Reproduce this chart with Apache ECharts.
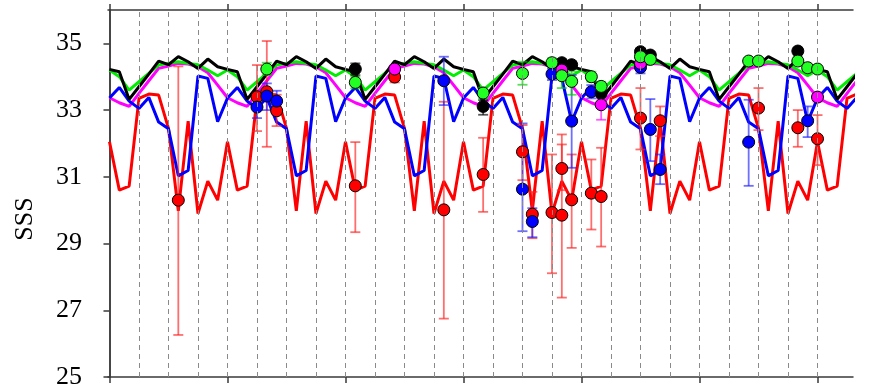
<!DOCTYPE html>
<html>
<head>
<meta charset="utf-8">
<script src="https://cdn.jsdelivr.net/npm/echarts@6/dist/echarts.min.js"></script>
<style>
  html, body { margin: 0; padding: 0; background: #fff; }
  #chart { width: 870px; height: 390px; }
</style>
</head>
<body>
<div id="chart"></div>
<script>
// monthly model lines, month 0 .. 76
const redLine = [
  32.05, 30.6, 30.72, 33.35, 33.48, 33.45, 32.45, 29.98, 32.67, 29.9, 30.87, 30.3,
  32.05, 30.6, 30.72, 33.35, 33.48, 33.45, 32.45, 29.98, 32.67, 29.9, 30.87, 30.3,
  32.05, 30.6, 30.72, 33.35, 33.48, 33.45, 32.45, 29.98, 32.67, 29.9, 30.87, 30.3,
  32.05, 30.6, 30.72, 33.35, 33.48, 33.45, 32.45, 29.98, 32.67, 29.9, 30.87, 30.3,
  32.05, 30.6, 30.72, 33.35, 33.48, 33.45, 32.45, 29.98, 32.67, 29.9, 30.87, 30.3,
  32.05, 30.6, 30.72, 33.35, 33.48, 33.45, 32.45, 29.98, 32.67, 29.9, 30.87, 30.3,
  32.05, 30.6, 30.72, 33.35, 33.48
]
const blueLine = [
  33.36, 33.68, 33.27, 33.05, 33.38, 32.64, 32.44, 31.03, 31.19, 34.02, 33.95, 32.65,
  33.36, 33.68, 33.27, 33.05, 33.38, 32.64, 32.44, 31.03, 31.19, 34.02, 33.95, 32.65,
  33.36, 33.68, 33.27, 33.05, 33.38, 32.64, 32.44, 31.03, 31.19, 34.02, 33.95, 32.65,
  33.36, 33.68, 33.27, 33.05, 33.38, 32.64, 32.44, 31.03, 31.19, 34.02, 33.95, 32.65,
  33.36, 33.68, 33.27, 33.05, 33.38, 32.64, 32.44, 31.03, 31.19, 34.02, 33.95, 32.65,
  33.36, 33.68, 33.27, 33.05, 33.38, 32.64, 32.44, 31.03, 31.19, 34.02, 33.95, 32.65,
  33.36, 33.68, 33.27, 33.05, 33.38
]
const magentaLine = [
  33.37, 33.22, 33.11, 33.5, 33.88, 34.25, 34.32, 34.4, 34.38, 34.3, 34.12, 33.75,
  33.37, 33.22, 33.11, 33.5, 33.88, 34.25, 34.32, 34.4, 34.38, 34.3, 34.12, 33.75,
  33.37, 33.22, 33.11, 33.5, 33.88, 34.25, 34.32, 34.4, 34.38, 34.3, 34.12, 33.75,
  33.37, 33.22, 33.11, 33.5, 33.88, 34.25, 34.32, 34.4, 34.38, 34.3, 34.12, 33.75,
  33.37, 33.22, 33.11, 33.5, 33.88, 34.25, 34.32, 34.4, 34.38, 34.3, 34.12, 33.75,
  33.37, 33.22, 33.11, 33.5, 33.88, 34.25, 34.32, 34.4, 34.38, 34.3, 34.12, 33.75,
  33.37, 33.22, 33.11, 33.5, 33.88
]
const greenLine = [
  34.2, 34.0, 33.6, 33.85, 34.1, 34.35, 34.4, 34.45, 34.4, 34.36, 34.2, 34.03,
  34.2, 34.0, 33.6, 33.85, 34.1, 34.35, 34.4, 34.45, 34.4, 34.36, 34.2, 34.03,
  34.2, 34.0, 33.6, 33.85, 34.1, 34.35, 34.4, 34.45, 34.4, 34.36, 34.2, 34.03,
  34.2, 34.0, 33.6, 33.85, 34.1, 34.35, 34.4, 34.45, 34.4, 34.36, 34.2, 34.03,
  34.2, 34.0, 33.6, 33.85, 34.1, 34.35, 34.4, 34.45, 34.4, 34.36, 34.2, 34.03,
  34.2, 34.0, 33.6, 33.85, 34.1, 34.35, 34.4, 34.45, 34.4, 34.36, 34.2, 34.03,
  34.2, 34.0, 33.6, 33.85, 34.1
]
const blackLine = [
  34.22, 34.15, 33.32, 33.7, 34.08, 34.47, 34.36, 34.6, 34.45, 34.25, 34.53, 34.3,
  34.22, 34.15, 33.32, 33.7, 34.08, 34.47, 34.36, 34.6, 34.45, 34.25, 34.53, 34.3,
  34.22, 34.15, 33.32, 33.7, 34.08, 34.47, 34.36, 34.6, 34.45, 34.25, 34.53, 34.3,
  34.22, 34.15, 33.32, 33.7, 34.08, 34.47, 34.36, 34.6, 34.45, 34.25, 34.53, 34.3,
  34.22, 34.15, 33.32, 33.7, 34.08, 34.47, 34.36, 34.6, 34.45, 34.25, 34.53, 34.3,
  34.22, 34.15, 33.32, 33.7, 34.08, 34.47, 34.36, 34.6, 34.45, 34.25, 34.53, 34.3,
  34.22, 34.15, 33.32, 33.7, 34.08
]

// observations: [month, value, low, high]
const redPts = [
  [7, 30.3, 26.26, 34.31], [15, 33.4, 32.37, 34.35], [16, 33.55, 31.9, 35.07],
  [17, 32.98, 32.52, 33.46], [25, 30.73, 29.34, 32.04], [29, 33.99, 33.83, 34.15],
  [34, 30.01, 26.75, 33.25], [38, 31.07, 29.95, 32.17], [42, 31.75, 30.9, 32.55],
  [43, 29.88, 29.16, 30.55], [45, 29.93, 28.11, 31.67], [46, 31.25, 30.6, 31.97],
  [46, 29.85, 27.38, 32.27], [47, 30.31, 28.87, 31.67], [49, 30.51, 29.42, 31.52],
  [50, 30.41, 28.91, 31.87], [54, 32.76, 31.82, 33.66], [56, 32.68, 32.22, 33.11],
  [66, 33.06, 32.4, 33.66], [70, 32.47, 31.9, 33.0], [72, 32.14, 31.35, 32.85]
]
const bluePts = [
  [15, 33.09, 32.76, 33.4], [16, 33.42, 33.0, 33.8], [17, 33.27, 33.02, 33.58],
  [34, 33.88, 33.15, 34.6], [42, 30.63, 29.37, 32.6], [43, 29.66, 29.19, 30.06],
  [45, 34.08, 33.9, 34.25], [47, 32.67, 31.27, 34.05], [49, 33.55, 33.35, 33.75],
  [54, 34.28, 34.1, 34.45], [55, 32.42, 31.47, 33.33], [56, 31.22, 30.78, 31.67],
  [65, 32.04, 30.73, 33.31], [71, 32.68, 32.19, 33.11]
]
const blackPts = [
  [25, 34.23, 34.05, 34.4], [38, 33.11, 32.86, 33.3], [46, 34.42, 34.3, 34.52],
  [47, 34.36, 34.25, 34.46], [50, 33.5, 33.4, 33.6], [54, 34.75, 34.65, 34.85],
  [55, 34.65, 34.55, 34.75], [70, 34.77, 34.67, 34.87]
]
const magentaPts = [
  [29, 34.23, 34.1, 34.35], [46, 34.2, 34.1, 34.3], [50, 33.16, 32.71, 33.35],
  [54, 34.4, 34.3, 34.5], [72, 33.39, 33.25, 33.5]
]
const greenPts = [
  [16, 34.23, 34.05, 34.42], [25, 33.83, 33.65, 34.0], [38, 33.51, 33.35, 33.68],
  [42, 34.1, 33.76, 34.45], [45, 34.42, 34.3, 34.55], [46, 34.03, 33.66, 34.4],
  [47, 33.86, 33.46, 34.16], [49, 34.0, 33.85, 34.15], [50, 33.71, 33.55, 33.85],
  [54, 34.6, 34.45, 34.7], [55, 34.52, 34.4, 34.62], [65, 34.47, 34.4, 34.55],
  [66, 34.47, 34.4, 34.55], [70, 34.47, 34.35, 34.6], [71, 34.27, 34.2, 34.35],
  [72, 34.23, 34.15, 34.3]
]

const yearTicks = [0, 12, 24, 36, 48, 60, 72]
const quarterLines = [3, 6, 9, 12, 15, 18, 21, 24, 27, 30, 33, 36, 39, 42, 45, 48, 51, 54, 57, 60, 63, 66, 69, 72]
const yTicks = [25, 27, 29, 31, 33, 35]

const serif = '"Liberation Serif", "Times New Roman", serif'
const axisColor = '#3a3a3a'

const lineSeries = (data, color) => ({
  type: 'line',
  data: data.map((v, i) => [i, v]),
  symbol: 'none',
  lineStyle: { color: color, width: 3 },
  z: 2,
  silent: true
})

const errorSeries = (pts, color) => ({
  type: 'custom',
  data: pts.map(p => [p[0], p[2], p[3]]),
  encode: { x: 0, y: [1, 2] },
  z: 3,
  silent: true,
  renderItem: (params, api) => {
    let top = api.coord([api.value(0), api.value(2)])
    let bot = api.coord([api.value(0), api.value(1)])
    let hw = 5
    let style = { stroke: color, lineWidth: 1.8, opacity: 0.65 }
    return {
      type: 'group',
      children: [
        { type: 'line', shape: { x1: top[0], y1: top[1], x2: bot[0], y2: bot[1] }, style: style },
        { type: 'line', shape: { x1: top[0] - hw, y1: top[1], x2: top[0] + hw, y2: top[1] }, style: style },
        { type: 'line', shape: { x1: bot[0] - hw, y1: bot[1], x2: bot[0] + hw, y2: bot[1] }, style: style }
      ]
    }
  }
})

const dotSeries = (pts, color) => ({
  type: 'scatter',
  data: pts.map(p => [p[0], p[1]]),
  symbol: 'circle',
  symbolSize: 12,
  itemStyle: { color: color, borderColor: '#000', borderWidth: 1, opacity: 1 },
  z: 4,
  silent: true
})

const xBase = {
  type: 'value',
  min: -0.15,
  max: 75.61,
  axisLine: { show: true, lineStyle: { color: axisColor, width: 1.5 } },
  axisTick: { show: true, customValues: yearTicks, length: 6, inside: false, lineStyle: { color: axisColor, width: 1.5 } },
  axisLabel: { show: false },
  splitLine: { show: false }
}

const chart = echarts.init(document.getElementById('chart'))

chart.setOption({
  animation: false,
  backgroundColor: '#fff',
  grid: { left: 108, right: 17, top: 10, bottom: 10 },
  xAxis: [
    Object.assign({}, xBase, { position: 'bottom' }),
    Object.assign({}, xBase, { position: 'top' })
  ],
  yAxis: [
    {
      type: 'value',
      min: 25,
      max: 36,
      position: 'left',
      axisLine: { show: true, lineStyle: { color: axisColor, width: 1.5 } },
      axisTick: { show: true, customValues: yTicks, length: 6, inside: false, lineStyle: { color: axisColor, width: 1.5 } },
      axisLabel: { customValues: yTicks, margin: 26, color: '#000', fontFamily: serif, fontSize: 26 },
      splitLine: { show: false }
    },
    {
      type: 'value',
      min: 25,
      max: 36,
      position: 'right',
      axisLine: { show: true, lineStyle: { color: axisColor, width: 1.5 } },
      axisTick: { show: false },
      axisLabel: { show: false },
      splitLine: { show: false }
    }
  ],
  graphic: [
    {
      type: 'text',
      x: 25,
      y: 219,
      rotation: Math.PI / 2,
      style: { text: 'SSS', font: '26px ' + serif, fill: '#000', textAlign: 'center', textVerticalAlign: 'middle' }
    }
  ],
  series: [
    {
      type: 'line',
      data: [],
      z: 1,
      silent: true,
      markLine: {
        silent: true,
        symbol: 'none',
        label: { show: false },
        lineStyle: { color: '#8a8a8a', width: 1, type: [5, 4] },
        data: quarterLines.map(m => ({ xAxis: m }))
      }
    },
    lineSeries(redLine, '#ff0000'),
    lineSeries(magentaLine, '#ff00ff'),
    lineSeries(blueLine, '#0000ff'),
    lineSeries(greenLine, '#00ee00'),
    lineSeries(blackLine, '#000000'),
    errorSeries(redPts, '#ff2020'),
    errorSeries(bluePts, '#2020ff'),
    errorSeries(blackPts, '#000000'),
    errorSeries(magentaPts, '#ff00ff'),
    errorSeries(greenPts, '#00cc00'),
    dotSeries(redPts, '#ff0000'),
    dotSeries(bluePts, '#0000ff'),
    dotSeries(blackPts, '#000000'),
    dotSeries(magentaPts, '#ff00ff'),
    dotSeries(greenPts, '#22ff22')
  ]
})
</script>
</body>
</html>
